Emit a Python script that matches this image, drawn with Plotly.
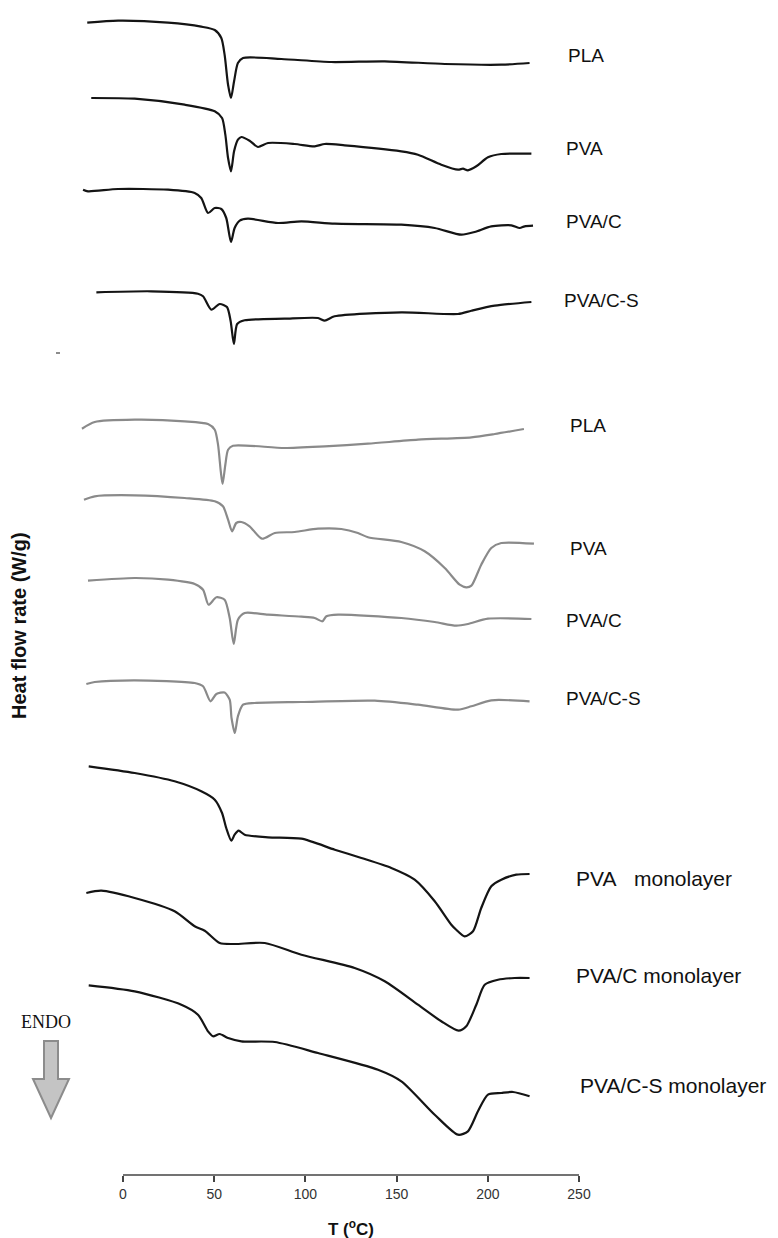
import plotly.graph_objects as go

# ---------------- data ----------------
# Temperatures (°C) and heat flow (arbitrary stacked units, endo down)
pla_T = [-19.6, -2.7, 24.7, 42.9, 50.3, 53.9, 55.7, 57.6, 59.2, 60.9, 63.0, 65.8, 86.8, 114.2, 143.5, 176.4, 207.4, 222.9]
pla_hf = [-14.7, -12.7, -14.7, -18.7, -22.0, -30.0, -46.7, -76.7, -90.0, -73.3, -55.0, -50.0, -51.0, -54.0, -53.3, -56.0, -56.7, -55.0]

pva_T = [-17.4, 6.4, 33.8, 50.3, 54.3, 56.1, 57.6, 59.2, 60.9, 63.0, 64.9, 69.4, 74.0, 79.5, 94.1, 105.1, 110.6, 121.5, 152.6, 161.7, 174.5, 183.7, 186.4, 189.1, 193.7, 200.1, 207.4, 223.9]
pva_hf = [-90.0, -90.7, -96.7, -103.3, -110.0, -126.7, -150.0, -163.3, -143.3, -131.7, -129.0, -132.7, -139.0, -135.0, -136.0, -138.3, -136.0, -137.3, -143.3, -146.7, -156.7, -161.7, -160.7, -162.3, -158.3, -149.3, -146.0, -145.7]

pvac_T = [-21.9, -19.2, -2.7, 24.7, 39.3, 42.9, 46.6, 50.3, 53.9, 56.6, 59.2, 61.2, 64.0, 68.5, 85.0, 97.8, 116.1, 152.6, 170.9, 185.5, 192.8, 201.9, 212.9, 217.5, 220.2, 224.8]
pvac_hf = [-181.7, -183.3, -181.0, -181.7, -185.0, -190.0, -205.0, -200.0, -201.0, -210.0, -234.0, -220.0, -212.7, -210.7, -215.0, -213.3, -215.7, -216.7, -220.0, -226.7, -224.0, -218.3, -217.3, -220.0, -218.3, -217.7]

pvacs_T = [-14.6, 15.5, 41.1, 43.9, 48.4, 53.0, 57.0, 59.0, 60.8, 62.6, 66.7, 88.6, 106.9, 110.6, 116.0, 152.6, 183.7, 191.0, 203.8, 223.9]
pvacs_hf = [-284.3, -283.3, -285.7, -288.3, -301.7, -296.0, -299.0, -313.0, -336.0, -316.0, -312.3, -310.7, -310.0, -312.7, -308.3, -304.3, -306.0, -302.7, -297.7, -294.0]

g_pla_T = [-22.5, -15.5, 6.4, 33.8, 46.6, 50.3, 52.1, 53.6, 54.6, 56.1, 57.6, 60.3, 88.6, 110.6, 134.3, 161.7, 191.0, 203.8, 219.8]
g_pla_hf = [-420.7, -414.0, -411.7, -413.3, -416.0, -421.7, -436.7, -463.3, -476.0, -456.7, -441.7, -437.7, -440.0, -438.3, -435.7, -431.7, -429.3, -426.0, -421.0]

g_pva_T = [-21.4, -15.5, 6.4, 33.8, 50.3, 54.8, 57.6, 59.8, 62.1, 64.9, 69.4, 76.2, 83.2, 94.1, 106.9, 119.7, 128.8, 134.3, 152.6, 165.4, 176.4, 184.6, 188.2, 191.0, 196.4, 201.9, 207.4, 225.3]
g_pva_hf = [-491.7, -488.3, -487.3, -490.0, -493.3, -498.3, -511.7, -523.3, -515.0, -514.0, -518.3, -530.7, -525.0, -524.0, -520.7, -521.0, -525.0, -529.3, -534.0, -543.3, -560.0, -576.7, -579.3, -577.7, -556.7, -540.0, -535.0, -535.7]

g_pvac_T = [-19.2, 6.4, 24.7, 39.3, 43.9, 46.9, 51.2, 55.7, 58.5, 60.7, 63.0, 66.7, 79.5, 97.8, 105.1, 109.3, 111.5, 117.9, 152.6, 170.9, 182.7, 189.1, 200.1, 223.9]
g_pvac_hf = [-572.7, -570.0, -571.7, -576.0, -581.7, -596.7, -589.3, -591.7, -610.0, -636.0, -611.7, -605.0, -606.7, -608.7, -610.0, -613.3, -608.3, -606.7, -610.0, -614.0, -617.7, -616.0, -610.7, -611.0]

g_pvacs_T = [-20.1, -15.5, 6.4, 39.3, 43.9, 48.0, 51.2, 55.7, 58.5, 59.5, 61.3, 63.0, 65.8, 72.2, 97.8, 138.0, 161.7, 183.7, 191.0, 201.9, 222.9]
g_pvacs_hf = [-676.0, -674.0, -672.3, -675.0, -678.3, -693.3, -686.0, -684.5, -691.7, -710.0, -725.0, -708.3, -696.7, -695.0, -694.0, -692.7, -696.7, -701.7, -698.3, -692.3, -693.3]

m_pva_T = [-18.8, 6.4, 28.3, 42.9, 50.3, 54.3, 56.6, 59.4, 61.2, 63.4, 66.7, 79.5, 97.8, 116.1, 130.7, 147.1, 159.9, 170.9, 180.0, 182.7, 187.3, 191.9, 196.4, 201.9, 207.4, 215.6, 222.9]
m_pva_hf = [-758.3, -765.0, -773.3, -783.3, -791.7, -805.0, -820.0, -832.7, -826.7, -822.7, -826.7, -829.3, -830.7, -841.7, -850.0, -860.0, -871.7, -893.3, -916.7, -921.7, -928.3, -923.3, -900.0, -878.3, -871.7, -866.7, -866.0]

m_pvac_T = [-20.1, -11.9, 6.4, 28.3, 39.3, 44.8, 53.0, 61.2, 77.7, 97.8, 127.0, 143.5, 161.7, 174.5, 184.0, 188.2, 193.7, 198.3, 205.6, 214.7, 222.9]
m_pvac_hf = [-885.0, -882.7, -890.0, -903.3, -918.3, -922.7, -935.0, -936.0, -935.0, -946.7, -960.0, -973.3, -996.7, -1013.3, -1022.7, -1018.3, -996.7, -976.7, -971.7, -970.0, -970.0]

m_pvacs_T = [-18.8, 6.4, 32.0, 41.1, 46.6, 49.3, 53.0, 57.6, 64.9, 83.2, 106.9, 139.8, 152.6, 170.9, 183.7, 189.1, 194.6, 200.1, 207.4, 213.8, 222.9]
m_pvacs_hf = [-977.3, -983.3, -996.7, -1006.7, -1023.3, -1028.3, -1026.0, -1030.0, -1033.3, -1034.0, -1045.0, -1061.7, -1073.3, -1106.7, -1126.7, -1123.3, -1103.3, -1086.7, -1085.0, -1084.0, -1088.3]

series = [
    (pla_T, pla_hf, "black"), (pva_T, pva_hf, "black"), (pvac_T, pvac_hf, "black"), (pvacs_T, pvacs_hf, "black"),
    (g_pla_T, g_pla_hf, "grey"), (g_pva_T, g_pva_hf, "grey"), (g_pvac_T, g_pvac_hf, "grey"), (g_pvacs_T, g_pvacs_hf, "grey"),
    (m_pva_T, m_pva_hf, "black"), (m_pvac_T, m_pvac_hf, "black"), (m_pvacs_T, m_pvacs_hf, "black"),
]

# curve labels: text, T position (left edge), heat-flow level, font size
label_texts = ["PLA", "PVA", "PVA/C", "PVA/C-S", "PLA", "PVA", "PVA/C", "PVA/C-S",
               "PVA&#160;&#160;&#160;monolayer", "PVA/C monolayer", "PVA/C-S monolayer"]
label_T = [243.0, 242.0, 242.0, 240.5, 244.0, 244.0, 242.0, 242.0, 247.0, 247.0, 249.5]
label_hf = [-47, -140, -213, -292, -417, -540, -612, -690, -870, -967, -1077]
label_size = [19, 19, 19, 19, 19, 19, 19, 19, 21, 21, 21]

x_ticks = [0, 50, 100, 150, 200, 250]

# ---------------- figure ----------------
W, H = 778, 1238
ML, MR, MT, MB = 60, 178, 0, 71
px_per_deg = 1.824
x0_px = 115
x_range = [(ML - x0_px) / px_per_deg, (W - MR - x0_px) / px_per_deg]
plot_h = H - MT - MB
y_range = [-plot_h, 0]

colors = {"black": "#141414", "grey": "#8a8a8a"}
FONT = "Liberation Sans, Arial, sans-serif"

fig = go.Figure()
for T, hf, c in series:
    fig.add_trace(go.Scatter(x=T, y=hf, mode="lines",
                             line=dict(color=colors[c], width=2.2, shape="spline", smoothing=0.7),
                             hoverinfo="skip", showlegend=False))

for t, xv, yv, fs in zip(label_texts, label_T, label_hf, label_size):
    fig.add_annotation(x=xv, y=yv, xref="x", yref="y", text=t, showarrow=False,
                       xanchor="left", yanchor="middle",
                       font=dict(family=FONT, size=fs, color="#111111"))

def pxx(px):
    return (px - ML) / (W - ML - MR)

def pxy(py):
    return (H - MB - py) / plot_h

# x axis line spanning 0..250 only
fig.add_shape(type="line", xref="x", yref="paper", x0=0, x1=250, y0=0, y1=0,
              line=dict(color="#444444", width=1.5))

# small stray mark visible in the reference
fig.add_shape(type="line", xref="paper", yref="paper", x0=pxx(48), x1=pxx(52), y0=pxy(345), y1=pxy(345),
              line=dict(color="#666666", width=1.5))

# x-axis title
fig.add_annotation(x=125, y=pxy(1220), xref="x", yref="paper", text="<b>T (<sup>o</sup>C)</b>",
                   showarrow=False, xanchor="center", yanchor="middle",
                   font=dict(family=FONT, size=17, color="#111111"))

# y-axis title
fig.add_annotation(x=pxx(11), y=pxy(618), xref="paper", yref="paper",
                   text="<b>Heat flow rate (W/g)</b>", textangle=-90, showarrow=False,
                   xanchor="center", yanchor="middle",
                   font=dict(family=FONT, size=20, color="#111111"))

# ENDO text and arrow
fig.add_annotation(x=pxx(38), y=pxy(1014), xref="paper", yref="paper", text="ENDO",
                   showarrow=False, xanchor="center", yanchor="middle",
                   font=dict(family="Liberation Serif, Times New Roman, serif", size=18, color="#111111"))
arrow_pts = [(36, 1033), (50, 1033), (50, 1071), (61, 1071), (43, 1110), (25, 1071), (36, 1071)]
path = "M " + " L ".join(f"{pxx(a):.5f},{pxy(b):.5f}" for a, b in arrow_pts) + " Z"
fig.add_shape(type="path", xref="paper", yref="paper", path=path,
              fillcolor="#c4c4c4", line=dict(color="#8c8c8c", width=2))

fig.update_layout(
    width=W, height=H,
    margin=dict(l=ML, r=MR, t=MT, b=MB),
    paper_bgcolor="white", plot_bgcolor="white",
    xaxis=dict(range=x_range, tickvals=x_ticks, ticktext=[str(v) for v in x_ticks],
               ticks="outside", ticklen=6, tickwidth=1.5, tickcolor="#444444",
               showline=False, showgrid=False, zeroline=False,
               tickfont=dict(family=FONT, size=14, color="#333333")),
    yaxis=dict(range=y_range, visible=False, showgrid=False, zeroline=False),
)

fig.write_html("out.html")
